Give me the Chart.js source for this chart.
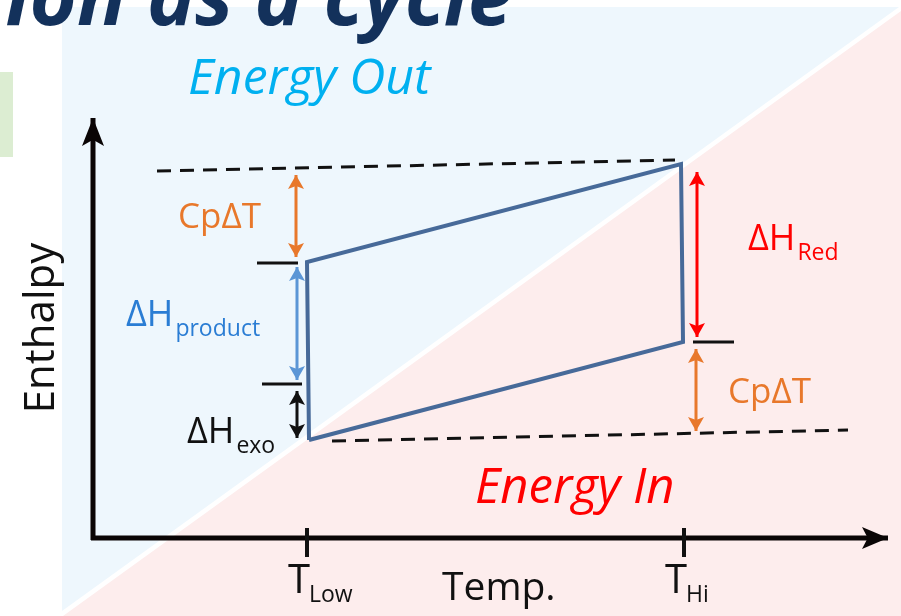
<!DOCTYPE html>
<html>
<head>
<meta charset="utf-8">
<script src="https://cdn.jsdelivr.net/npm/chart.js@4.4.1/dist/chart.umd.min.js"></script>
<style>
  html, body { margin: 0; padding: 0; background: #fff; overflow: hidden; }
  #wrap { width: 901px; height: 616px; position: relative; }
</style>
</head>
<body>
<div id="wrap"><canvas id="chart"></canvas></div>
<script>
// x = temperature, y = enthalpy, origin at the axis corner
const tempLevels = [214, 591];
const tempSubs = ['Low', 'Hi'];

// the cycle (closed back to its start)
const cycleTemp = [216, 214, 588, 590, 216];
const cycleEnthalpy = [98, 276, 374, 196, 98];

// dashed reference levels
const upperRefTemp = [64, 582];
const upperRefEnthalpy = [367, 378];
const lowerRefTemp = [239, 755];
const lowerRefEnthalpy = [97, 108];

// short level markers
const markFrom = [164, 169, 600];
const markTo = [205, 209, 641];
const markEnthalpy = [275, 154, 196];

// double arrows: CpΔT, ΔH product, ΔH exo, ΔH Red, CpΔT
const arrowTemp = [203, 204, 204, 604, 603];
const arrowFrom = [363, 271, 147, 366, 189];
const arrowTo = [281, 158, 100, 201, 107];
const arrowColors = ['#E8782B', '#5B96D6', '#111111', '#FF0000', '#E8782B'];

const X_MIN = -93, X_MAX = 808, Y_MIN = -78, Y_MAX = 538;
const FONT = '"Open Sans", "DejaVu Sans", sans-serif';

// backdrop shapes (blue / pink halves, green strip)
const bgShapes = [
  { xs: [-31, 806, -31], ys: [531, 531, -73], color: '#EEF7FD' },
  { xs: [808, 808, -30], ys: [527, -78, -78], color: '#FDEDED' },
  { xs: [-93, -80, -80, -93], ys: [466, 466, 381, 381], color: '#DCEDD2' },
];

const labels = [
  { text: 'Energy Out', x: 95, y: 444, font: 'italic 50px', color: '#00B0F0' },
  { text: 'Energy In', x: 382, y: 35, font: 'italic 49px', color: '#FF0000' },
  { text: 'CpΔT', x: 85, y: 310, font: '35px', color: '#E8782B' },
  { text: 'CpΔT', x: 635, y: 135, font: '35px', color: '#E8782B' },
  { text: 'ΔH', sub: 'product', x: 33, y: 212, font: '36px', color: '#2A7DD4' },
  { text: 'ΔH', sub: 'exo', x: 94, y: 95, font: '36px', color: '#111111' },
  { text: 'ΔH', sub: 'Red', x: 655, y: 288, font: '36px', color: '#FF0000' },
  { text: 'Temp.', x: 349, y: -62, font: '39px', color: '#111111' },
];

function toPx(chart, x, y) {
  return [chart.scales.x.getPixelForValue(x), chart.scales.y.getPixelForValue(y)];
}

function line(xs, ys, color, width, extra) {
  return Object.assign({
    data: xs.map((x, i) => ({ x, y: ys[i] })),
    showLine: true,
    borderColor: color,
    borderWidth: width,
    pointRadius: 0,
    fill: false,
    clip: false,
  }, extra || {});
}

function drawHead(ctx, tip, from, len, width, color) {
  const dx = tip[0] - from[0];
  const dy = tip[1] - from[1];
  const d = Math.hypot(dx, dy);
  const ux = dx / d, uy = dy / d;
  const nx = -uy, ny = ux;
  const bx = tip[0] - ux * len, by = tip[1] - uy * len;
  ctx.beginPath();
  ctx.moveTo(tip[0], tip[1]);
  ctx.lineTo(bx + nx * width / 2, by + ny * width / 2);
  ctx.lineTo(bx + ux * len * 0.22, by + uy * len * 0.22);
  ctx.lineTo(bx - nx * width / 2, by - ny * width / 2);
  ctx.closePath();
  ctx.fillStyle = color;
  ctx.fill();
}

const diagram = {
  id: 'diagram',
  beforeDatasetsDraw(chart) {
    const ctx = chart.ctx;
    ctx.save();
    bgShapes.forEach((s) => {
      ctx.beginPath();
      s.xs.forEach((x, i) => {
        const [a, b] = toPx(chart, x, s.ys[i]);
        if (i) ctx.lineTo(a, b); else ctx.moveTo(a, b);
      });
      ctx.closePath();
      ctx.fillStyle = s.color;
      ctx.fill();
    });
    // slide title, cut by the top edge
    const [tx, ty] = toPx(chart, 420, 513);
    ctx.font = 'italic bold 81px ' + FONT;
    ctx.fillStyle = '#13315B';
    ctx.textAlign = 'right';
    ctx.textBaseline = 'alphabetic';
    ctx.fillText('ion as a cycle', tx, ty);
    ctx.restore();
  },
  afterDatasetsDraw(chart) {
    const ctx = chart.ctx;
    ctx.save();
    chart.data.datasets.forEach((ds, i) => {
      if (!ds.heads) return;
      const pts = chart.getDatasetMeta(i).data;
      const first = [pts[0].x, pts[0].y];
      const last = [pts[pts.length - 1].x, pts[pts.length - 1].y];
      drawHead(ctx, last, first, ds.headLen, ds.headWidth, ds.borderColor);
      if (ds.heads === 'both') drawHead(ctx, first, last, ds.headLen, ds.headWidth, ds.borderColor);
    });

    ctx.textBaseline = 'alphabetic';
    ctx.textAlign = 'left';
    labels.forEach((lab) => {
      const [x, y] = toPx(chart, lab.x, lab.y);
      ctx.font = lab.font + ' ' + FONT;
      ctx.fillStyle = lab.color;
      ctx.fillText(lab.text, x, y);
      if (lab.sub) {
        const w = ctx.measureText(lab.text).width;
        ctx.font = '23px ' + FONT;
        ctx.fillText(lab.sub, x + w + 2, y + 10);
      }
    });

    // T_Low / T_Hi under the ticks
    tempLevels.forEach((t, i) => {
      const [x, y] = toPx(chart, t - 19, -55);
      ctx.fillStyle = '#111111';
      ctx.font = '40px ' + FONT;
      ctx.fillText('T', x, y);
      const w = ctx.measureText('T').width;
      ctx.font = '23px ' + FONT;
      ctx.fillText(tempSubs[i], x + w - 1, y + 9);
    });

    // rotated y-axis title
    const [ex, ey] = toPx(chart, -39, 210);
    ctx.translate(ex, ey);
    ctx.rotate(-Math.PI / 2);
    ctx.textAlign = 'center';
    ctx.font = '42px ' + FONT;
    ctx.fillStyle = '#111111';
    ctx.fillText('Enthalpy', 0, 0);
    ctx.restore();
  },
};

const datasets = [
  line(cycleTemp, cycleEnthalpy, '#476A99', 4, { borderJoinStyle: 'miter' }),
  line(upperRefTemp, upperRefEnthalpy, '#111111', 3, { borderDash: [14, 9] }),
  line(lowerRefTemp, lowerRefEnthalpy, '#111111', 3, { borderDash: [14, 9] }),
];

markFrom.forEach((t, i) => {
  datasets.push(line([t, markTo[i]], [markEnthalpy[i], markEnthalpy[i]], '#111111', 3));
});

arrowTemp.forEach((t, i) => {
  datasets.push(line([t, t], [arrowFrom[i], arrowTo[i]], arrowColors[i], 3,
    { heads: 'both', headLen: 14, headWidth: 16 }));
});

tempLevels.forEach((t) => {
  datasets.push(line([t, t], [10, -19], '#111111', 4));
});

// axes with arrow tips
datasets.push(line([-2, 795], [0, 0], '#0A0505', 5, { heads: 'end', headLen: 26, headWidth: 22 }));
datasets.push(line([0, 0], [-2, 420], '#0A0505', 5, { heads: 'end', headLen: 28, headWidth: 22 }));

new Chart(document.getElementById('chart'), {
  type: 'scatter',
  data: { datasets },
  options: {
    responsive: true,
    maintainAspectRatio: false,
    animation: false,
    layout: { padding: 0 },
    scales: {
      x: { type: 'linear', min: X_MIN, max: X_MAX, display: false },
      y: { type: 'linear', min: Y_MIN, max: Y_MAX, display: false },
    },
    plugins: { legend: { display: false }, tooltip: { enabled: false } },
    elements: { line: { tension: 0 } },
  },
  plugins: [diagram],
});
</script>
</body>
</html>
